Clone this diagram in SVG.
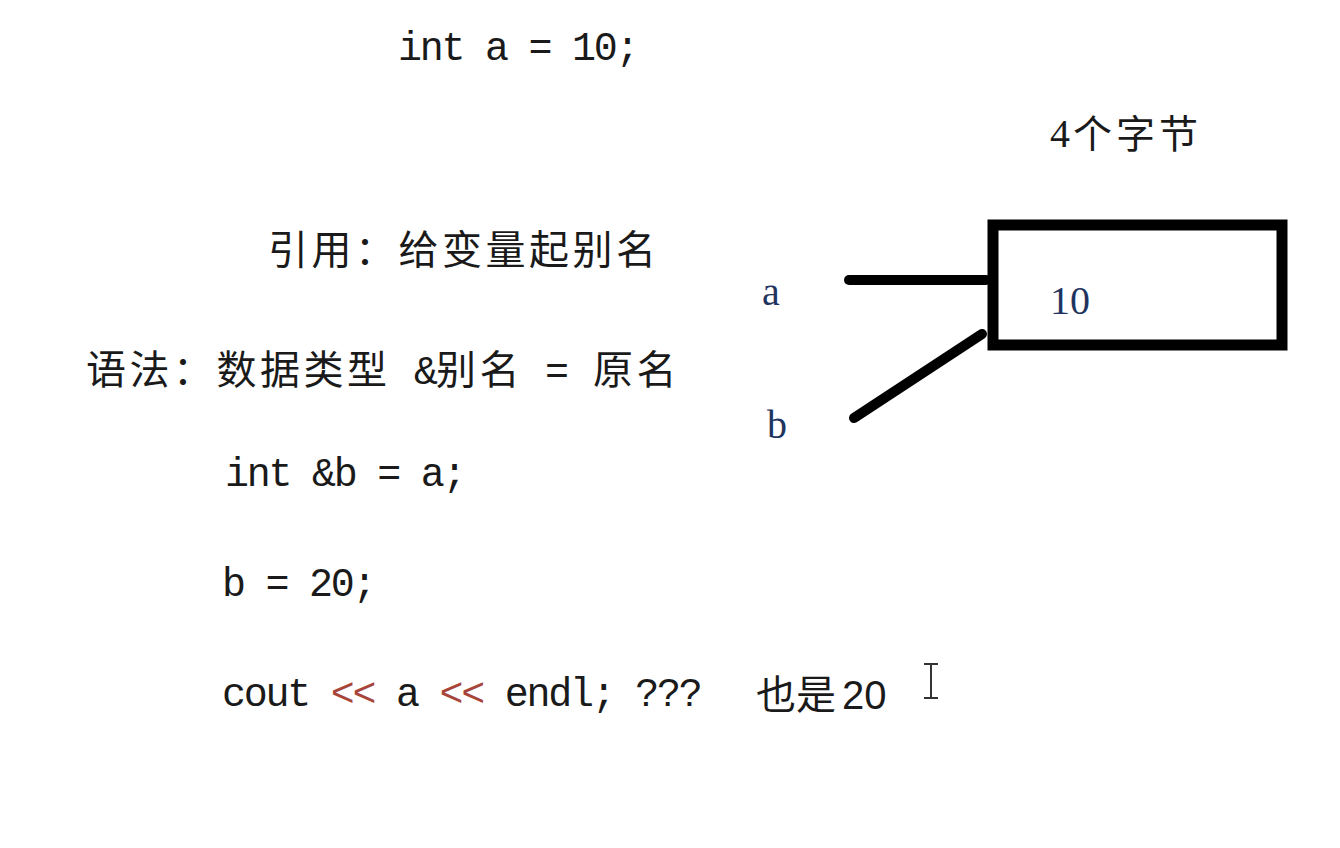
<svg xmlns="http://www.w3.org/2000/svg" width="1340" height="848" viewBox="0 0 1340 848">
<style>
.code{font-family:"Liberation Mono","Noto Sans CJK SC",monospace;font-size:40px;letter-spacing:-2.25px;fill:#1a1a1a;white-space:pre}
.cjk{font-family:"Noto Sans CJK SC",sans-serif;font-size:40px;letter-spacing:3.5px;fill:#1a1a1a}
.lbl{font-family:"Liberation Serif","Noto Sans CJK SC",serif;font-size:40px;fill:#1f3560}
.op{fill:#a8453a}
.conn{stroke:#000;stroke-width:10;stroke-linecap:round;fill:none}
</style>
<rect width="1340" height="848" fill="#ffffff"/>

<g id="decl-a"><text class="code" x="398" y="60">int a = 10;</text></g>

<g id="bytes-label">
<text class="lbl" x="1050" y="147" style="fill:#1a1a1a">4</text>
<text class="cjk" x="1073" y="148" style="font-size:39px;letter-spacing:4px">个字节</text>
</g>

<g id="definition"><text class="cjk" x="268" y="264">引用：给变量起别名</text></g>

<g id="syntax">
<text class="cjk" x="86" y="384">语法：数据类型</text>
<text class="code" x="414" y="384">&amp;</text>
<text class="cjk" x="436" y="384">别名</text>
<text class="code" x="545" y="384">=</text>
<text class="cjk" x="593" y="384">原名</text>
</g>

<g id="decl-b"><text class="code" x="225" y="486">int &amp;b = a;</text></g>
<g id="assign-b"><text class="code" x="222" y="596">b = 20;</text></g>
<g id="output">
<text class="code" x="222" y="706">cout <tspan class="op">&lt;&lt;</tspan> a <tspan class="op">&lt;&lt;</tspan> endl; ???</text>
<text class="cjk" x="756" y="709" style="letter-spacing:0px">也是</text>
<text x="842" y="709" style="font-family:'Liberation Sans',sans-serif;font-size:40px;fill:#1a1a1a">20</text>
</g>

<g id="label-a"><text class="lbl" x="762" y="305">a</text></g>
<g id="label-b"><text class="lbl" x="767" y="438">b</text></g>

<g id="memory-box">
<rect x="993" y="225" width="289" height="120" fill="none" stroke="#000" stroke-width="11"/>
<text class="lbl" x="1050" y="314">10</text>
</g>

<g id="connectors">
<line class="conn" x1="849" y1="280" x2="986" y2="280"/>
<line class="conn" x1="854" y1="418" x2="982" y2="334"/>
</g>

<g id="cursor"><path d="M924 664h14M924 698h14M931 664v34" stroke="#333" stroke-width="2" fill="none"/></g>
</svg>
